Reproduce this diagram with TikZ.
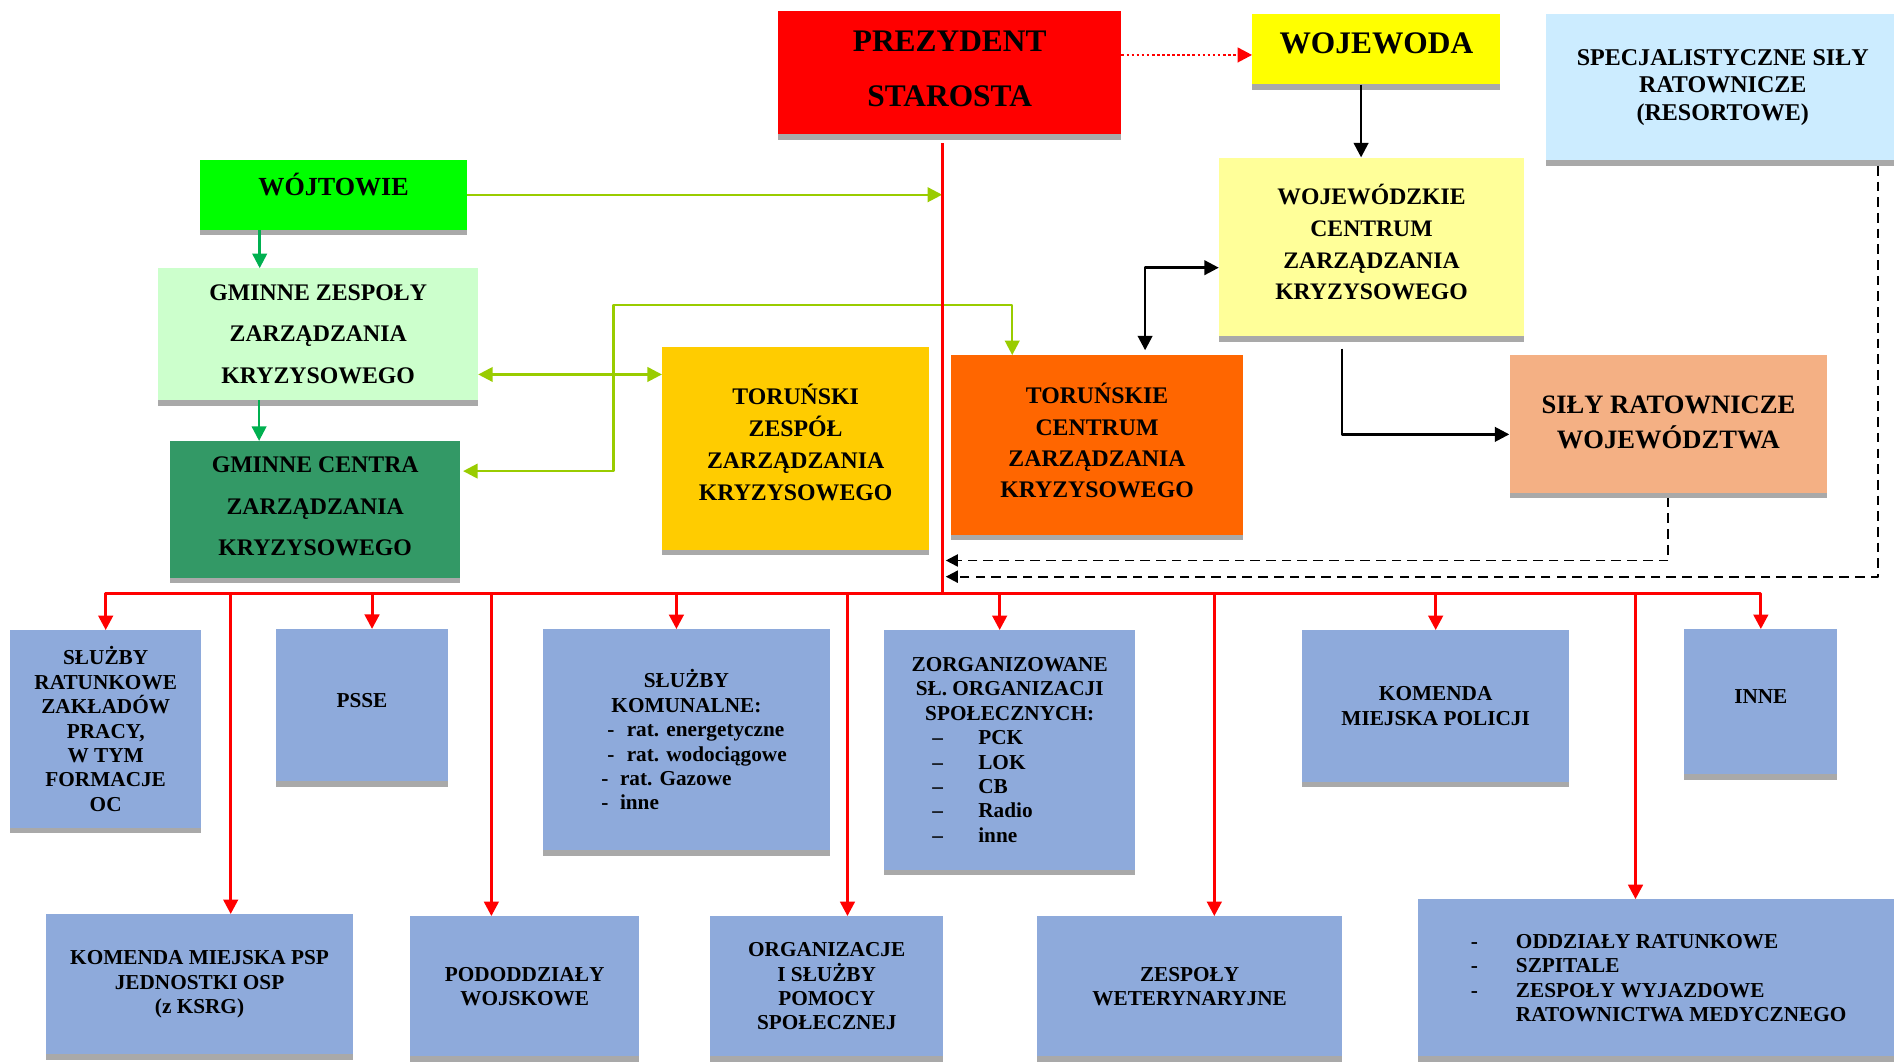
\documentclass[tikz,border=0pt]{standalone}
\usepackage{fontspec}
\setmainfont{Liberation Serif}
\usepackage{tikz}
\usetikzlibrary{arrows.meta,shadows,calc}
\newcommand{\boxfont}[2]{\fontsize{#1}{#2}\selectfont\bfseries}
\newcommand{\pushup}[1]{\rule[-#1]{0pt}{0pt}}
\definecolor{prezred}{HTML}{FF0000}
\definecolor{wojyellow}{HTML}{FFFF00}
\definecolor{specblue}{HTML}{CCECFF}
\definecolor{wojtgreen}{HTML}{00FF00}
\definecolor{gzgreen}{HTML}{CCFFCC}
\definecolor{gcgreen}{HTML}{339966}
\definecolor{tzorange}{HTML}{FFCC00}
\definecolor{tcorange}{HTML}{FF6600}
\definecolor{wczyellow}{HTML}{FFFF99}
\definecolor{srwsalmon}{HTML}{F4B084}
\definecolor{unitblue}{HTML}{8EAADB}
\definecolor{shadowgray}{HTML}{A9A9A9}
\definecolor{arrowgreen}{HTML}{00B050}
\definecolor{limegreen}{HTML}{99CC00}
\tikzset{
  orgbox/.style={rectangle, inner sep=0pt, anchor=north west, align=center,
    drop shadow={shadow xshift=0pt, shadow yshift=-4.5pt, opacity=1, fill=shadowgray}},
  boxsize/.style 2 args={minimum width=#1pt, minimum height=#2pt},
  lowbox/.style={orgbox, fill=unitblue, font={\boxfont{17.6}{20.2}}},
  redline/.style={draw=red, line width=2.5pt},
  dotline/.style={draw=red, line width=2.2pt, dash pattern=on 2.2pt off 2pt},
  blkline/.style={draw=black, line width=2.2pt},
  grnline/.style={draw=arrowgreen, line width=2pt},
  ygrline/.style={draw=limegreen, line width=2pt},
  dashline/.style={draw=black, line width=1.6pt, dash pattern=on 8pt off 5pt,
    >={Triangle[length=10pt,width=10pt]}}
}
\begin{document}
\begin{tikzpicture}[line join=round, >={Triangle[length=12pt,width=12pt]}, x=1pt, y=-1pt]
\useasboundingbox (0,0) rectangle (1568,879.2);
\node[orgbox, boxsize={284}{102}, fill=prezred, font={\boxfont{26}{45}}] (prez) at (644,9.1) {PREZYDENT\\STAROSTA\pushup{6.7pt}};
\node[orgbox, boxsize={205.4}{58}, fill=wojyellow, font={\boxfont{26}{30}}] (woj) at (1036.6,11.6) {WOJEWODA\pushup{10pt}};
\node[orgbox, boxsize={292}{120.7}, fill=specblue, font={\boxfont{19.9}{22.8}}] (spec) at (1280,11.7) {SPECJALISTYCZNE SIŁY\\RATOWNICZE\\(RESORTOWE)};
\node[orgbox, boxsize={221}{58}, fill=wojtgreen, font={\boxfont{21.6}{25}}] (wojt) at (165.5,132) {WÓJTOWIE\pushup{16.8pt}};
\node[orgbox, boxsize={264.5}{109}, fill=gzgreen, font={\boxfont{19.7}{34.2}}] (gz) at (131,222) {GMINNE ZESPOŁY\\ZARZĄDZANIA\\KRYZYSOWEGO};
\node[orgbox, boxsize={240.5}{113}, fill=gcgreen, font={\boxfont{19.7}{34.4}}] (gc) at (140.5,365) {GMINNE CENTRA\\ZARZĄDZANIA\\KRYZYSOWEGO\pushup{4.8pt}};
\node[orgbox, boxsize={221}{168}, fill=tzorange, font={\boxfont{19.7}{26.4}}] (tz) at (548,287) {TORUŃSKI\\ZESPÓŁ\\ZARZĄDZANIA\\KRYZYSOWEGO\pushup{9.9pt}};
\node[orgbox, boxsize={242}{148.6}, fill=tcorange, font={\boxfont{19.7}{25.9}}] (tc) at (787,294) {TORUŃSKIE\\CENTRUM\\ZARZĄDZANIA\\KRYZYSOWEGO\pushup{7.7pt}};
\node[orgbox, boxsize={252.5}{148}, fill=wczyellow, font={\boxfont{19.6}{26.2}}] (wcz) at (1009,130.3) {WOJEWÓDZKIE\\CENTRUM\\ZARZĄDZANIA\\KRYZYSOWEGO\pushup{7.9pt}};
\node[orgbox, boxsize={263}{113.7}, fill=srwsalmon, font={\boxfont{22}{28.7}}] (srw) at (1249.5,294) {SIŁY RATOWNICZE\\WOJEWÓDZTWA\pushup{3.5pt}};

\node[lowbox, boxsize={158}{163.6}] (srat) at (8.3,521.6) {SŁUŻBY\\RATUNKOWE\\ZAKŁADÓW\\PRACY,\\W TYM\\FORMACJE\\OC};
\node[lowbox, boxsize={142}{126}] (psse) at (228.5,520.7) {PSSE\pushup{8pt}};
\node[lowbox, boxsize={237}{183}] (kom) at (449.6,520.8) {SŁUŻBY\\KOMUNALNE:\\
  \makebox[140.8pt][l]{\hspace*{5pt}\makebox[16pt][l]{-}rat. energetyczne}\\
  \makebox[140.8pt][l]{\hspace*{5pt}\makebox[16pt][l]{-}rat. wodociągowe}\\
  \makebox[140.8pt][l]{\makebox[15.4pt][l]{-}rat. Gazowe}\\
  \makebox[140.8pt][l]{\makebox[15.4pt][l]{-}inne}};
\node[lowbox, boxsize={207.4}{198.2}] (zorg) at (732,521.6) {ZORGANIZOWANE\\SŁ. ORGANIZACJI\\SPOŁECZNYCH:\\
  \makebox[128pt][l]{\makebox[38pt][l]{–}PCK}\\
  \makebox[128pt][l]{\makebox[38pt][l]{–}LOK}\\
  \makebox[128pt][l]{\makebox[38pt][l]{–}CB}\\
  \makebox[128pt][l]{\makebox[38pt][l]{–}Radio}\\
  \makebox[128pt][l]{\makebox[38pt][l]{–}inne}};
\node[lowbox, boxsize={220.7}{125.3}] (kmp) at (1078,521.6) {KOMENDA\\MIEJSKA POLICJI};
\node[lowbox, boxsize={126.7}{120}] (inne) at (1394.2,520.8) {INNE\pushup{8.8pt}};
\node[lowbox, boxsize={254}{116}] (kmpsp) at (38,756.7) {KOMENDA MIEJSKA PSP\\JEDNOSTKI OSP\\(z KSRG)};
\node[lowbox, boxsize={189.3}{116}] (podo) at (339.5,758.4) {PODODDZIAŁY\\WOJSKOWE};
\node[lowbox, boxsize={192.6}{116}] (org) at (587.9,758.4) {ORGANIZACJE\\I SŁUŻBY\\POMOCY\\SPOŁECZNEJ};
\node[lowbox, boxsize={252.3}{116}] (wet) at (858.5,758.4) {ZESPOŁY\\WETERYNARYJNE};
\node[lowbox, boxsize={398}{130}, align=left] (odd) at (1174,744.4) {\makebox[37.3pt][l]{-}ODDZIAŁY RATUNKOWE\\
  \makebox[37.3pt][l]{-}SZPITALE\\
  \makebox[37.3pt][l]{-}ZESPOŁY WYJAZDOWE\\
  \hspace*{37.3pt}RATOWNICTWA MEDYCZNEGO};

\coordinate (hub) at (780,491);
\coordinate (inA) at (783,464);
\coordinate (inB) at (783,477.4);

\draw[dotline,->] (prez.east |- 0,45.5) -- (woj.west |- 0,45.5);
\draw[blkline,->] (woj.south -| 1126.8,0) -- (wcz.north -| 1126.8,0);
\draw[blkline,<->] ($(tc.north -| 948,0)+(0,-4)$) |- (wcz.west |- 0,221.6);
\draw[blkline,->] ($(wcz.south -| 1111,0)+(0,10)$) |- (srw.west |- 0,359.6);
\draw[dashline,->] ($(srw.south)+(0,4)$) |- (inA);
\draw[dashline,->] ($(spec.south -| 1554.5,0)+(0,4.5)$) |- (inB);

\draw[ygrline,->] (wojt.east) -- (wojt.east -| hub);
\draw[grnline,->] (wojt.south -| 215,0) -- (gz.north -| 215,0);
\draw[grnline,->] (gz.south -| 214.5,0) -- (gc.north -| 214.5,0);
\draw[ygrline,<->] (gz.east |- 0,310) -- (tz.west |- 0,310);
\draw[ygrline,<->] ($(gc.east |- 0,390)+(2,0)$) -| (508,252.5) -| (tc.north -| 838,0);

\draw[redline] ($(prez.south -| hub)+(0,7)$) -- (hub);
\draw[redline,<->] (srat.north) |- (hub) -| (inne.north);
\draw[redline,->] (hub -| 191,0) -- (kmpsp.north -| 191,0);
\draw[redline,->] (hub -| 308,0) -- (psse.north -| 308,0);
\draw[redline,->] (hub -| 406.8,0) -- (podo.north -| 406.8,0);
\draw[redline,->] (hub -| 560,0) -- (kom.north -| 560,0);
\draw[redline,->] (hub -| 701.6,0) -- (org.north -| 701.6,0);
\draw[redline,->] (hub -| 827.6,0) -- (zorg.north -| 827.6,0);
\draw[redline,->] (hub -| 1005.3,0) -- (wet.north -| 1005.3,0);
\draw[redline,->] (hub -| kmp.north) -- (kmp.north);
\draw[redline,->] (hub -| 1354,0) -- (odd.north -| 1354,0);
\end{tikzpicture}
\end{document}
